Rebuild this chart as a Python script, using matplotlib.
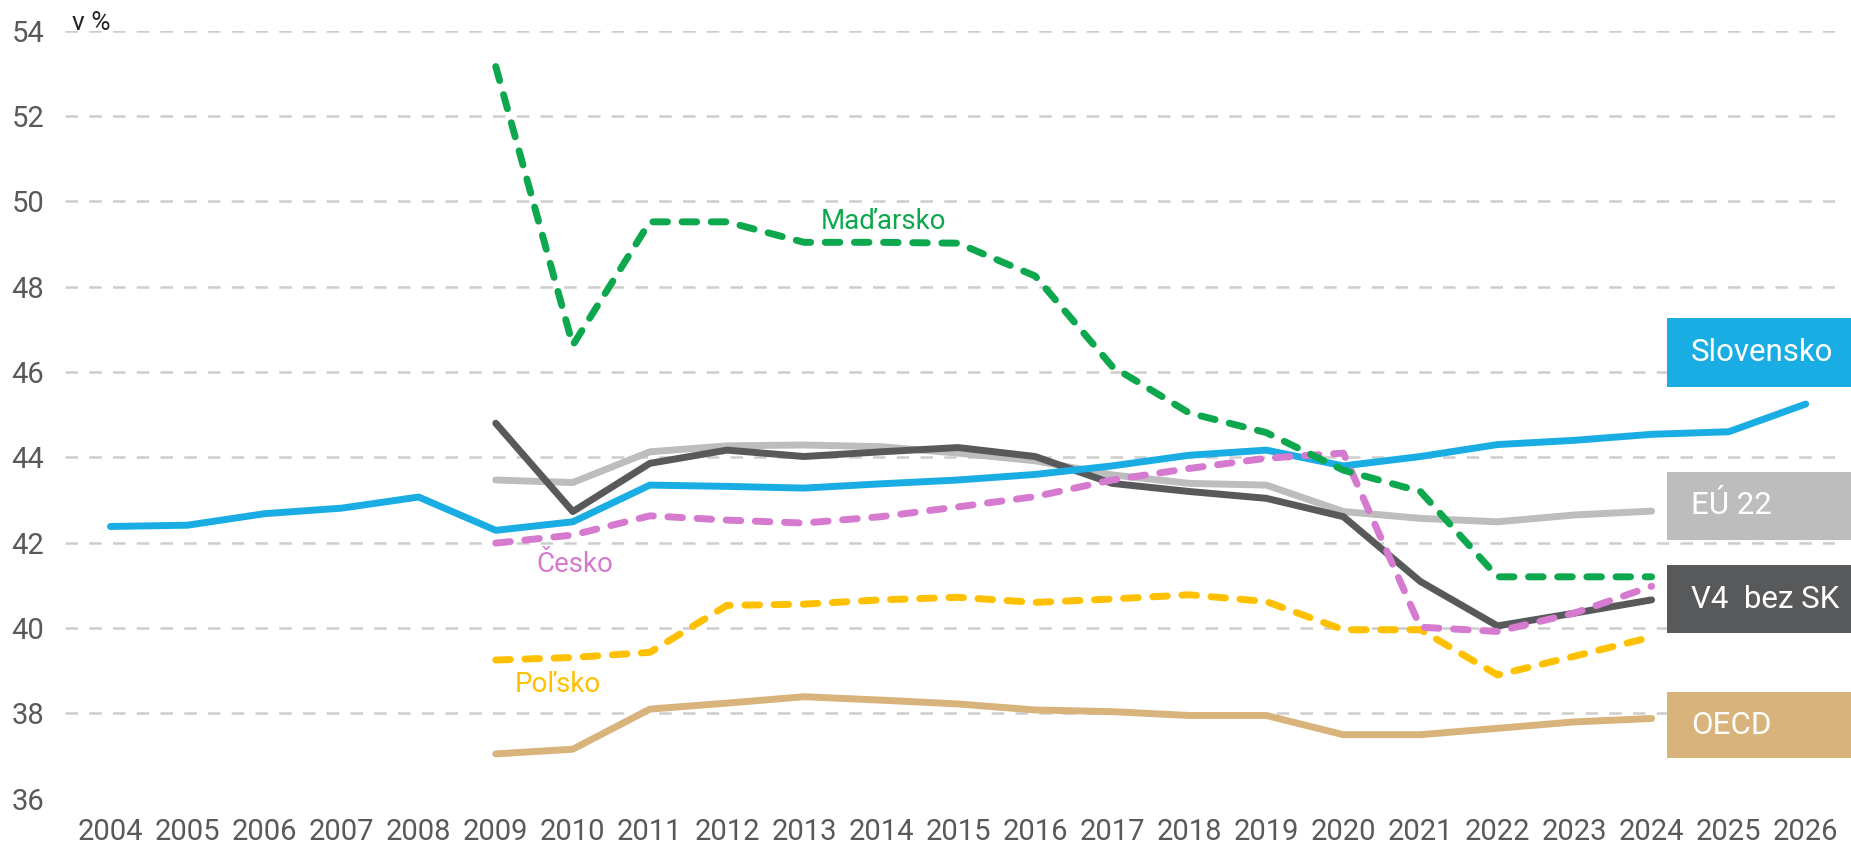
import matplotlib
matplotlib.use("Agg")
import matplotlib.pyplot as plt
from matplotlib.patches import Rectangle

plt.rcParams['font.family'] = ['Roboto', 'DejaVu Sans']

# ---- data ----
years_sk = list(range(2004, 2027))
slovensko = [42.38, 42.41, 42.68, 42.81, 43.07, 42.29, 42.49, 43.35, 43.32, 43.28,
             43.38, 43.47, 43.60, 43.80, 44.05, 44.17, 43.80, 44.02, 44.30, 44.40,
             44.54, 44.60, 45.25]

years = list(range(2009, 2025))
madarsko = [53.16, 46.63, 49.52, 49.52, 49.04, 49.04, 49.02, 48.25, 46.13, 45.04,
            44.58, 43.70, 43.20, 41.20, 41.20, 41.20]
cesko = [41.99, 42.18, 42.63, 42.53, 42.46, 42.61, 42.84, 43.08, 43.47, 43.74,
         43.98, 44.10, 40.02, 39.92, 40.35, 40.98]
v4_bez_sk = [44.80, 42.73, 43.86, 44.17, 44.02, 44.13, 44.23, 44.02, 43.39, 43.20,
             43.04, 42.61, 41.09, 40.05, 40.35, 40.66]
eu22 = [43.47, 43.41, 44.13, 44.27, 44.29, 44.25, 44.10, 43.92, 43.59, 43.39,
        43.35, 42.73, 42.57, 42.49, 42.65, 42.74]
polsko = [39.25, 39.31, 39.43, 40.53, 40.56, 40.66, 40.72, 40.60, 40.68, 40.78,
          40.62, 39.96, 39.96, 38.90, 39.34, 39.79]
oecd = [37.05, 37.16, 38.10, 38.24, 38.39, 38.31, 38.22, 38.08, 38.04, 37.95,
        37.95, 37.50, 37.50, 37.65, 37.80, 37.88]

x_ticks = list(range(2004, 2027))
y_ticks = list(range(36, 55, 2))

# ---- colours ----
C_SK = '#1AADE4'
C_EU = '#BDBDBD'
C_V4 = '#58595B'
C_OECD = '#D8B47C'
C_HU = '#0DA84E'
C_CZ = '#D67AD0'
C_PL = '#FFC000'

W, H = 1851, 850
fig = plt.figure(figsize=(W / 100, H / 100), dpi=100)
ax_left, ax_right = 65, 1835
ax_top, ax_bot = 30.7, 798.7
ax = fig.add_axes([ax_left / W, (H - ax_bot) / H, (ax_right - ax_left) / W, (ax_bot - ax_top) / H])

ax.set_xlim(2003.41, 2026.38)
ax.set_ylim(36, 54)

# grid lines (no line at 36)
for v in y_ticks[1:]:
    ax.axhline(v, color='#CDCDCD', lw=1.8, dashes=(5.0, 4.5), zorder=1)

LW = 5.0
dash = (2.1, 2.1)

ax.plot(years, oecd, color=C_OECD, lw=LW, solid_capstyle='round', solid_joinstyle='round', zorder=3, clip_on=False)
ax.plot(years, polsko, color=C_PL, lw=LW, dashes=dash, dash_capstyle='round', dash_joinstyle='round', zorder=3, clip_on=False)
ax.plot(years, eu22, color=C_EU, lw=LW, solid_capstyle='round', solid_joinstyle='round', zorder=4, clip_on=False)
ax.plot(years, v4_bez_sk, color=C_V4, lw=LW, solid_capstyle='round', solid_joinstyle='round', zorder=5, clip_on=False)
ax.plot(years_sk, slovensko, color=C_SK, lw=LW, solid_capstyle='round', solid_joinstyle='round', zorder=6, clip_on=False)
ax.plot(years, cesko, color=C_CZ, lw=LW, dashes=dash, dash_capstyle='round', dash_joinstyle='round', zorder=7, clip_on=False)
ax.plot(years, madarsko, color=C_HU, lw=LW, dashes=dash, dash_capstyle='round', dash_joinstyle='round', zorder=8, clip_on=False)

# inline labels
ax.text(2014.03, 49.52, 'Maďarsko', color=C_HU, fontsize=20, ha='center', va='center', zorder=9)
ax.text(2010.03, 41.50, 'Česko', color=C_CZ, fontsize=20, ha='center', va='center', zorder=9)
ax.text(2009.80, 38.67, 'Poľsko', color=C_PL, fontsize=20, ha='center', va='center', zorder=9)

# axes styling
for s in ax.spines.values():
    s.set_visible(False)
ax.set_xticks(x_ticks)
ax.set_xticklabels([str(t) for t in x_ticks])
ax.set_yticks(y_ticks)
ax.set_yticklabels([str(t) for t in y_ticks])
ax.tick_params(axis='both', length=0, labelsize=21, colors='#595959')
ax.tick_params(axis='x', pad=14)
ax.tick_params(axis='y', pad=15)

# unit label
fig.text(72 / W, 1 - 23 / H, 'v %', fontsize=19, color='#262626', ha='left', va='center')

# legend boxes on the right
boxes = [
    ('Slovensko', C_SK, 318, 387),
    ('EÚ 22', C_EU, 472, 540),
    ('V4  bez SK', C_V4, 565, 633),
    ('OECD', C_OECD, 692, 758),
]
bx0 = 1667
for label, col, y0, y1 in boxes:
    r = Rectangle((bx0 / W, 1 - y1 / H), (W - bx0) / W, (y1 - y0) / H,
                  transform=fig.transFigure, facecolor=col, edgecolor='none', zorder=10)
    fig.patches.append(r)
    fig.text(1691 / W, 1 - (y0 + y1) / 2 / H, label, color='white', fontsize=22.5,
             ha='left', va='center', zorder=11)

fig.savefig('out.png', dpi=100, facecolor='white')
